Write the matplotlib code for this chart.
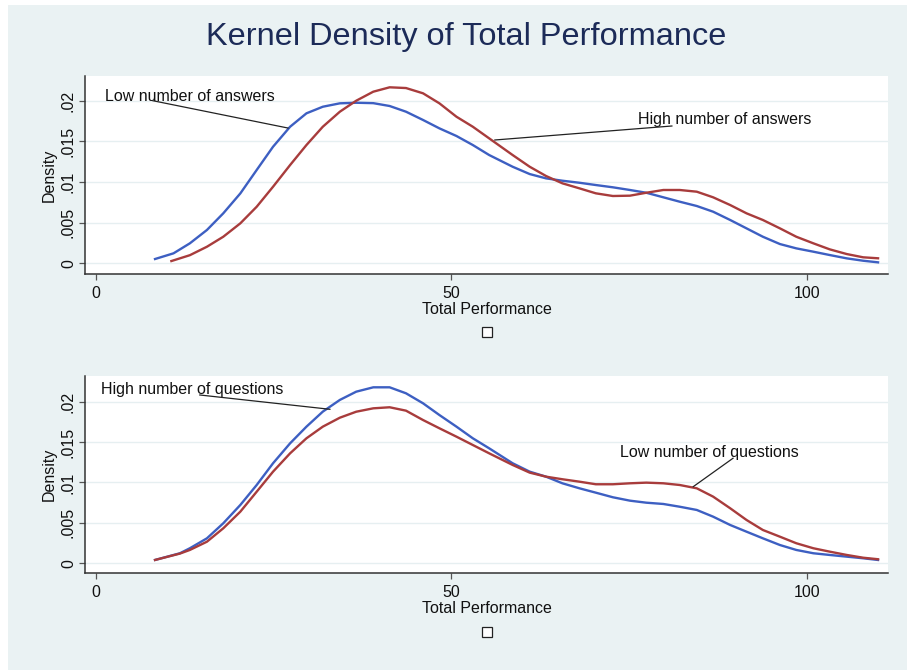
import matplotlib
matplotlib.use("Agg")
import matplotlib.pyplot as plt
from matplotlib.patches import Rectangle

plt.rcParams['font.family'] = ['Liberation Sans', 'DejaVu Sans']

# Top panel: answers
top_low_x = [8.3, 10.9, 13.2, 15.6, 17.9, 20.3, 22.6, 24.9, 27.3, 29.6, 31.9, 34.3, 36.6, 39.0,
             41.3, 43.6, 46.0, 48.3, 50.7, 53.0, 55.3, 58.6, 61.0, 63.3, 65.6, 68.0, 70.3, 72.7,
             75.1, 77.4, 79.8, 82.1, 84.5, 86.8, 89.2, 91.5, 93.8, 96.2, 98.5, 100.9, 103.2,
             105.6, 107.9, 110.0]
top_low_y = [0.00053, 0.00123, 0.00246, 0.0041, 0.00615, 0.0086, 0.01148, 0.01434, 0.0168,
             0.01845, 0.01926, 0.01968, 0.01975, 0.0197, 0.01935, 0.01865, 0.01763, 0.0166,
             0.01566, 0.01455, 0.01332, 0.01188, 0.01098, 0.01045, 0.01016, 0.00991, 0.00963,
             0.00935, 0.00902, 0.00868, 0.00812, 0.00758, 0.00705, 0.00635, 0.00533, 0.0043,
             0.00327, 0.00237, 0.00184, 0.00143, 0.00102, 0.00061, 0.00032, 0.00012]

top_high_x = [10.6, 13.2, 15.6, 17.9, 20.3, 22.6, 24.9, 27.3, 29.6, 31.9, 34.3, 36.6, 39.0,
              41.3, 43.6, 46.0, 48.3, 50.7, 53.0, 55.3, 58.6, 61.0, 63.3, 65.6, 68.0, 70.3, 72.7,
              75.1, 77.4, 79.8, 82.1, 84.5, 86.8, 89.2, 91.5, 93.8, 96.2, 98.5, 100.9, 103.2,
              105.6, 107.9, 110.0]
top_high_y = [0.00028, 0.001, 0.00204, 0.00327, 0.00492, 0.00696, 0.00942, 0.01209, 0.01455,
              0.0168, 0.01865, 0.02, 0.02111, 0.02165, 0.02156, 0.02091, 0.01968, 0.01803,
              0.0168, 0.01537, 0.01332, 0.01188, 0.01074, 0.00984, 0.00922, 0.00861, 0.00828,
              0.00832, 0.00868, 0.00902, 0.00902, 0.00881, 0.00812, 0.00717, 0.00615, 0.00533,
              0.0043, 0.00327, 0.00246, 0.00172, 0.00114, 0.00074, 0.00062]

# Bottom panel: questions
bot_x = [8.3, 11.8, 13.2, 15.6, 17.9, 20.3, 22.6, 24.9, 27.3, 29.6, 31.9, 34.3, 36.6, 39.0,
         41.3, 43.6, 46.0, 48.3, 50.7, 53.0, 55.3, 58.6, 61.0, 63.3, 65.6, 68.0, 70.3, 72.7,
         75.1, 77.4, 79.8, 82.1, 84.5, 86.8, 89.2, 91.5, 93.8, 96.2, 98.5, 100.9, 103.2,
         105.6, 107.9, 110.0]
bot_high_y = [0.00041, 0.00124, 0.00186, 0.00309, 0.00495, 0.00722, 0.00969, 0.01238, 0.01485,
              0.01691, 0.01877, 0.02022, 0.02124, 0.02178, 0.02178, 0.02104, 0.0198, 0.01835,
              0.01691, 0.01547, 0.01423, 0.01238, 0.01134, 0.01072, 0.0099, 0.00928, 0.00874,
              0.00817, 0.00775, 0.0075, 0.00734, 0.007, 0.0066, 0.00577, 0.00474, 0.00391,
              0.00309, 0.00226, 0.00165, 0.00124, 0.00103, 0.00082, 0.00062, 0.00041]
bot_low_y = [0.00041, 0.0012, 0.00165, 0.00267, 0.00433, 0.00639, 0.00886, 0.01134, 0.01361,
             0.01547, 0.01691, 0.01802, 0.01876, 0.01918, 0.01931, 0.01889, 0.01773, 0.01671,
             0.01567, 0.01464, 0.01361, 0.01217, 0.01122, 0.01072, 0.0104, 0.0101, 0.00978,
             0.00978, 0.0099, 0.00998, 0.0099, 0.00969, 0.00928, 0.00825, 0.00681, 0.00536,
             0.00412, 0.00329, 0.00248, 0.00186, 0.00144, 0.00103, 0.00069, 0.0005]

x_ticks = [0, 50, 100]
y_ticks = [0, 0.005, 0.01, 0.015, 0.02]
y_tick_labels = ["0", ".005", ".01", ".015", ".02"]

BLUE = "#3d5fc2"
RED = "#a83c3c"
PANEL = "#eaf2f3"
TXT = "#111111"
W, H = 907, 670

fig = plt.figure(figsize=(W / 100, H / 100), dpi=100)
fig.patch.set_facecolor("white")
fig.patches.append(Rectangle((8 / W, 0), 1 - 8 / W, 1 - 5 / H, transform=fig.transFigure,
                             facecolor=PANEL, edgecolor="none", zorder=-5))

fig.text(466 / W, 1 - 37 / H, "Kernel Density of Total Performance", ha="center", va="center",
         fontsize=23.4, color="#1c2b58")


def style_axes(ax, ylim):
    ax.set_facecolor("white")
    ax.set_xlim(-1.55, 111.4)
    ax.set_ylim(*ylim)
    for s in ["top", "right"]:
        ax.spines[s].set_visible(False)
    for s in ["left", "bottom"]:
        ax.spines[s].set_color("#333333")
        ax.spines[s].set_linewidth(1.1)
    ax.set_xticks(x_ticks)
    ax.set_xticklabels([str(t) for t in x_ticks], fontsize=11.5, color=TXT)
    ax.set_yticks(y_ticks)
    ax.set_yticklabels(y_tick_labels, fontsize=11.5, rotation=90, va="center", color=TXT)
    ax.tick_params(axis="x", length=4.5, width=0.9, color="#555555", pad=4)
    ax.tick_params(axis="y", length=4.5, width=0.9, color="#555555", pad=2)
    ax.grid(axis="y", color="#e6eff1", linewidth=1)
    ax.set_axisbelow(True)
    ax.set_xlabel("Total Performance", fontsize=11.5, labelpad=1, color=TXT)
    ax.set_ylabel("Density", fontsize=11.5, labelpad=3, color=TXT)


def annotate(ax, text, text_xy, line_start, line_end):
    ax.text(text_xy[0], text_xy[1], text, fontsize=11.5, ha="left", va="center", color=TXT)
    ax.plot([line_start[0], line_end[0]], [line_start[1], line_end[1]], color="#222222",
            linewidth=0.9, zorder=4)


ax1 = fig.add_axes([85 / W, 1 - 274.3 / H, 803 / W, 198.3 / H])
style_axes(ax1, (-0.00135, 0.02304))
ax1.plot(top_low_x, top_low_y, color=BLUE, linewidth=1.7, zorder=3)
ax1.plot(top_high_x, top_high_y, color=RED, linewidth=1.7, zorder=3)
annotate(ax1, "Low number of answers", (1.3, 0.02058), (8.0, 0.0200), (27.0, 0.01664))
annotate(ax1, "High number of answers", (76.2, 0.01771), (81.0, 0.01689), (56.1, 0.01517))

ax2 = fig.add_axes([85 / W, 1 - 573.3 / H, 803 / W, 197.3 / H])
style_axes(ax2, (-0.00124, 0.02318))
ax2.plot(bot_x, bot_high_y, color=BLUE, linewidth=1.7, zorder=3)
ax2.plot(bot_x, bot_low_y, color=RED, linewidth=1.7, zorder=3)
annotate(ax2, "High number of questions", (0.7, 0.02145), (14.6, 0.02083), (32.9, 0.01906))
annotate(ax2, "Low number of questions", (73.7, 0.01374), (89.6, 0.0130), (84.0, 0.00948))

# empty legend boxes under each panel
for cy in [332, 632]:
    fig.patches.append(Rectangle(((486.7 - 5) / W, 1 - (cy + 5) / H), 10 / W, 10 / H,
                                 transform=fig.transFigure, facecolor="white",
                                 edgecolor="#222222", linewidth=0.9, zorder=2))

fig.savefig("out.png", dpi=100, facecolor=fig.get_facecolor())
